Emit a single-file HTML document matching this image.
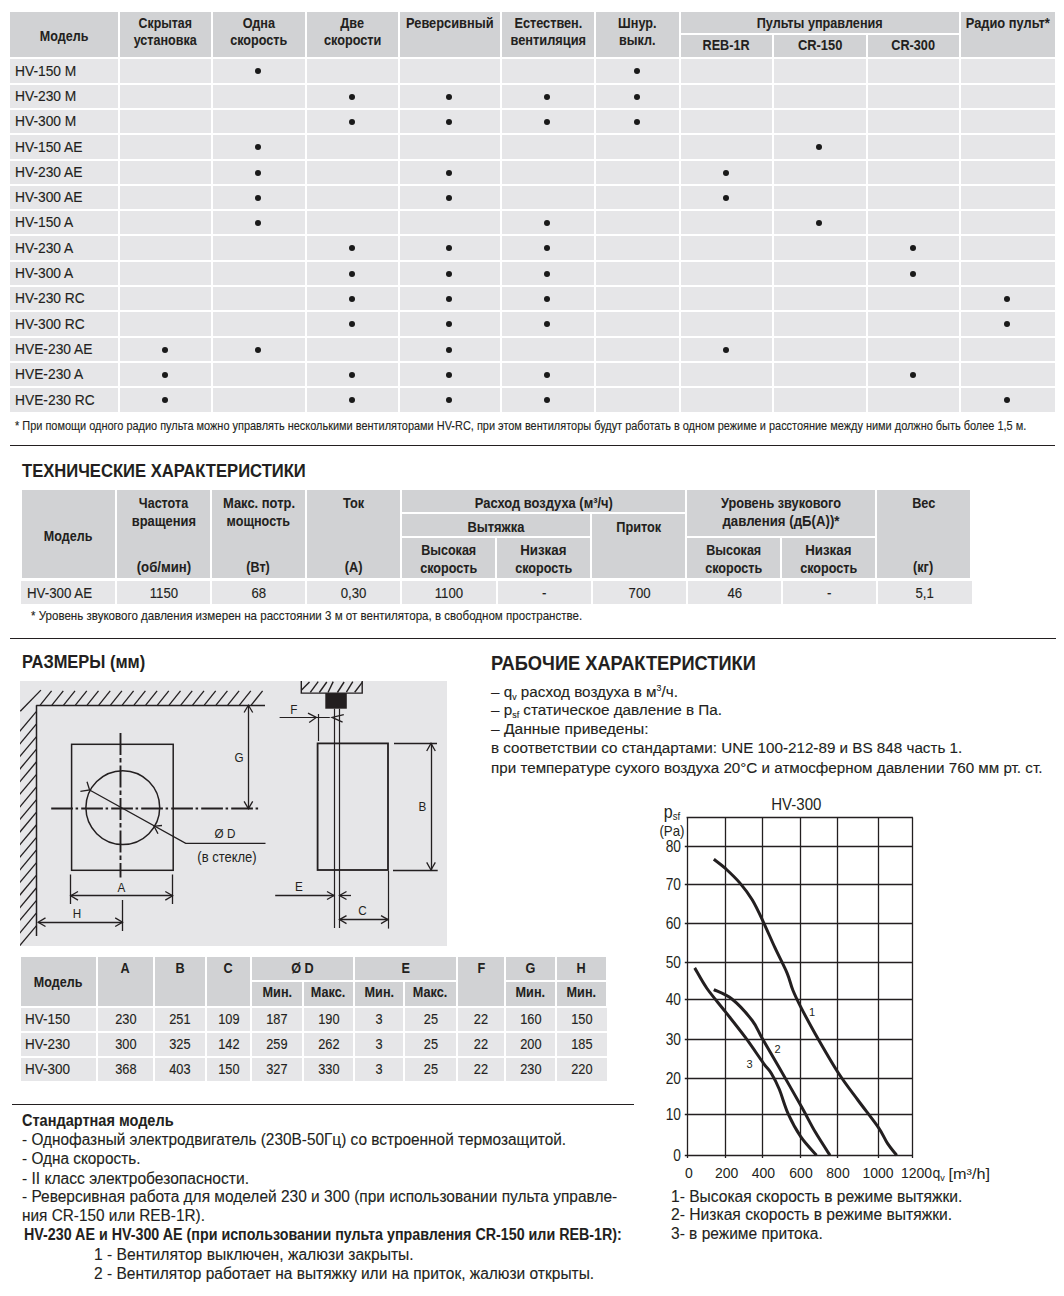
<!DOCTYPE html>
<html><head><meta charset="utf-8"><title>HV</title>
<style>
html,body{margin:0;padding:0;background:#fff}
body{width:1064px;height:1296px;position:relative;overflow:hidden;font-family:"Liberation Sans",sans-serif;color:#231f20}
.r{position:absolute}
.t{position:absolute;white-space:nowrap;-webkit-text-stroke:0.12px #231f20}
.d{position:absolute;border-radius:50%;background:#1a1a1a}
sub,sup{font-size:58%;line-height:0}sub{vertical-align:-0.32em}
svg{position:absolute;left:0;top:0}
</style></head><body>
<div class="r" style="left:10px;top:12px;width:108px;height:45px;background:#d1d2d4"></div>
<div class="r" style="left:120px;top:12px;width:91px;height:45px;background:#d1d2d4"></div>
<div class="r" style="left:213px;top:12px;width:92px;height:45px;background:#d1d2d4"></div>
<div class="r" style="left:307px;top:12px;width:91px;height:45px;background:#d1d2d4"></div>
<div class="r" style="left:400px;top:12px;width:100px;height:45px;background:#d1d2d4"></div>
<div class="r" style="left:502px;top:12px;width:92px;height:45px;background:#d1d2d4"></div>
<div class="r" style="left:596px;top:12px;width:83px;height:45px;background:#d1d2d4"></div>
<div class="r" style="left:961px;top:12px;width:94px;height:45px;background:#d1d2d4"></div>
<div class="r" style="left:681px;top:12px;width:278px;height:21px;background:#d1d2d4"></div>
<div class="r" style="left:681px;top:35px;width:91px;height:22px;background:#d1d2d4"></div>
<div class="r" style="left:774px;top:35px;width:92px;height:22px;background:#d1d2d4"></div>
<div class="r" style="left:868px;top:35px;width:91px;height:22px;background:#d1d2d4"></div>
<div class="t" style="left:-336.0px;width:800px;text-align:center;top:29.15px;font-size:14px;line-height:14px;font-weight:700;-webkit-text-stroke-width:0.05px;"><span style="display:inline-block;transform:scaleX(0.8950);">Модель</span></div>
<div class="t" style="left:-234.5px;width:800px;text-align:center;top:15.85px;font-size:14px;line-height:14px;font-weight:700;-webkit-text-stroke-width:0.05px;"><span style="display:inline-block;transform:scaleX(0.8821);">Скрытая</span></div>
<div class="t" style="left:-234.5px;width:800px;text-align:center;top:33.35px;font-size:14px;line-height:14px;font-weight:700;-webkit-text-stroke-width:0.05px;"><span style="display:inline-block;transform:scaleX(0.8968);">установка</span></div>
<div class="t" style="left:-141.0px;width:800px;text-align:center;top:15.85px;font-size:14px;line-height:14px;font-weight:700;-webkit-text-stroke-width:0.05px;"><span style="display:inline-block;transform:scaleX(0.9050);">Одна</span></div>
<div class="t" style="left:-141.0px;width:800px;text-align:center;top:33.35px;font-size:14px;line-height:14px;font-weight:700;-webkit-text-stroke-width:0.05px;"><span style="display:inline-block;transform:scaleX(0.9005);">скорость</span></div>
<div class="t" style="left:-47.5px;width:800px;text-align:center;top:15.85px;font-size:14px;line-height:14px;font-weight:700;-webkit-text-stroke-width:0.05px;"><span style="display:inline-block;transform:scaleX(0.9050);">Две</span></div>
<div class="t" style="left:-47.5px;width:800px;text-align:center;top:33.35px;font-size:14px;line-height:14px;font-weight:700;-webkit-text-stroke-width:0.05px;"><span style="display:inline-block;transform:scaleX(0.9050);">скорости</span></div>
<div class="t" style="left:148.0px;width:800px;text-align:center;top:15.85px;font-size:14px;line-height:14px;font-weight:700;-webkit-text-stroke-width:0.05px;"><span style="display:inline-block;transform:scaleX(0.9068);">Естествен.</span></div>
<div class="t" style="left:148.0px;width:800px;text-align:center;top:33.35px;font-size:14px;line-height:14px;font-weight:700;-webkit-text-stroke-width:0.05px;"><span style="display:inline-block;transform:scaleX(0.9155);">вентиляция</span></div>
<div class="t" style="left:237.5px;width:800px;text-align:center;top:15.85px;font-size:14px;line-height:14px;font-weight:700;-webkit-text-stroke-width:0.05px;"><span style="display:inline-block;transform:scaleX(0.9025);">Шнур.</span></div>
<div class="t" style="left:237.5px;width:800px;text-align:center;top:33.35px;font-size:14px;line-height:14px;font-weight:700;-webkit-text-stroke-width:0.05px;"><span style="display:inline-block;transform:scaleX(0.8984);">выкл.</span></div>
<div class="t" style="left:50.0px;width:800px;text-align:center;top:15.85px;font-size:14px;line-height:14px;font-weight:700;-webkit-text-stroke-width:0.05px;"><span style="display:inline-block;transform:scaleX(0.9158);">Реверсивный</span></div>
<div class="t" style="left:420.0px;width:800px;text-align:center;top:15.85px;font-size:14px;line-height:14px;font-weight:700;-webkit-text-stroke-width:0.05px;"><span style="display:inline-block;transform:scaleX(0.9043);">Пульты управления</span></div>
<div class="t" style="left:326.5px;width:800px;text-align:center;top:37.85px;font-size:14px;line-height:14px;font-weight:700;-webkit-text-stroke-width:0.05px;"><span style="display:inline-block;transform:scaleX(0.9019);">REB-1R</span></div>
<div class="t" style="left:420.0px;width:800px;text-align:center;top:37.85px;font-size:14px;line-height:14px;font-weight:700;-webkit-text-stroke-width:0.05px;"><span style="display:inline-block;transform:scaleX(0.9208);">CR-150</span></div>
<div class="t" style="left:513.5px;width:800px;text-align:center;top:37.85px;font-size:14px;line-height:14px;font-weight:700;-webkit-text-stroke-width:0.05px;"><span style="display:inline-block;transform:scaleX(0.9050);">CR-300</span></div>
<div class="t" style="left:608.0px;width:800px;text-align:center;top:15.85px;font-size:14px;line-height:14px;font-weight:700;-webkit-text-stroke-width:0.05px;"><span style="display:inline-block;transform:scaleX(0.9180);">Радио пульт*</span></div>
<div class="r" style="left:10px;top:59px;width:108px;height:24px;background:#e6e6e8"></div>
<div class="r" style="left:120px;top:59px;width:91px;height:24px;background:#e6e6e8"></div>
<div class="r" style="left:213px;top:59px;width:92px;height:24px;background:#e6e6e8"></div>
<div class="r" style="left:307px;top:59px;width:91px;height:24px;background:#e6e6e8"></div>
<div class="r" style="left:400px;top:59px;width:100px;height:24px;background:#e6e6e8"></div>
<div class="r" style="left:502px;top:59px;width:92px;height:24px;background:#e6e6e8"></div>
<div class="r" style="left:596px;top:59px;width:83px;height:24px;background:#e6e6e8"></div>
<div class="r" style="left:681px;top:59px;width:91px;height:24px;background:#e6e6e8"></div>
<div class="r" style="left:774px;top:59px;width:92px;height:24px;background:#e6e6e8"></div>
<div class="r" style="left:868px;top:59px;width:91px;height:24px;background:#e6e6e8"></div>
<div class="r" style="left:961px;top:59px;width:94px;height:24px;background:#e6e6e8"></div>
<div class="t" style="left:15px;top:64.92px;font-size:13.8px;line-height:13.8px;transform-origin:0 0">HV-150 M</div>
<div class="d" style="left:255.3px;top:68.0px;width:6px;height:6px"></div>
<div class="d" style="left:633.8px;top:68.0px;width:6px;height:6px"></div>
<div class="r" style="left:10px;top:85px;width:108px;height:23px;background:#e6e6e8"></div>
<div class="r" style="left:120px;top:85px;width:91px;height:23px;background:#e6e6e8"></div>
<div class="r" style="left:213px;top:85px;width:92px;height:23px;background:#e6e6e8"></div>
<div class="r" style="left:307px;top:85px;width:91px;height:23px;background:#e6e6e8"></div>
<div class="r" style="left:400px;top:85px;width:100px;height:23px;background:#e6e6e8"></div>
<div class="r" style="left:502px;top:85px;width:92px;height:23px;background:#e6e6e8"></div>
<div class="r" style="left:596px;top:85px;width:83px;height:23px;background:#e6e6e8"></div>
<div class="r" style="left:681px;top:85px;width:91px;height:23px;background:#e6e6e8"></div>
<div class="r" style="left:774px;top:85px;width:92px;height:23px;background:#e6e6e8"></div>
<div class="r" style="left:868px;top:85px;width:91px;height:23px;background:#e6e6e8"></div>
<div class="r" style="left:961px;top:85px;width:94px;height:23px;background:#e6e6e8"></div>
<div class="t" style="left:15px;top:90.42px;font-size:13.8px;line-height:13.8px;transform-origin:0 0">HV-230 M</div>
<div class="d" style="left:348.8px;top:93.5px;width:6px;height:6px"></div>
<div class="d" style="left:446.3px;top:93.5px;width:6px;height:6px"></div>
<div class="d" style="left:544.3px;top:93.5px;width:6px;height:6px"></div>
<div class="d" style="left:633.8px;top:93.5px;width:6px;height:6px"></div>
<div class="r" style="left:10px;top:110px;width:108px;height:23px;background:#e6e6e8"></div>
<div class="r" style="left:120px;top:110px;width:91px;height:23px;background:#e6e6e8"></div>
<div class="r" style="left:213px;top:110px;width:92px;height:23px;background:#e6e6e8"></div>
<div class="r" style="left:307px;top:110px;width:91px;height:23px;background:#e6e6e8"></div>
<div class="r" style="left:400px;top:110px;width:100px;height:23px;background:#e6e6e8"></div>
<div class="r" style="left:502px;top:110px;width:92px;height:23px;background:#e6e6e8"></div>
<div class="r" style="left:596px;top:110px;width:83px;height:23px;background:#e6e6e8"></div>
<div class="r" style="left:681px;top:110px;width:91px;height:23px;background:#e6e6e8"></div>
<div class="r" style="left:774px;top:110px;width:92px;height:23px;background:#e6e6e8"></div>
<div class="r" style="left:868px;top:110px;width:91px;height:23px;background:#e6e6e8"></div>
<div class="r" style="left:961px;top:110px;width:94px;height:23px;background:#e6e6e8"></div>
<div class="t" style="left:15px;top:115.42px;font-size:13.8px;line-height:13.8px;transform-origin:0 0">HV-300 M</div>
<div class="d" style="left:348.8px;top:118.5px;width:6px;height:6px"></div>
<div class="d" style="left:446.3px;top:118.5px;width:6px;height:6px"></div>
<div class="d" style="left:544.3px;top:118.5px;width:6px;height:6px"></div>
<div class="d" style="left:633.8px;top:118.5px;width:6px;height:6px"></div>
<div class="r" style="left:10px;top:135px;width:108px;height:24px;background:#e6e6e8"></div>
<div class="r" style="left:120px;top:135px;width:91px;height:24px;background:#e6e6e8"></div>
<div class="r" style="left:213px;top:135px;width:92px;height:24px;background:#e6e6e8"></div>
<div class="r" style="left:307px;top:135px;width:91px;height:24px;background:#e6e6e8"></div>
<div class="r" style="left:400px;top:135px;width:100px;height:24px;background:#e6e6e8"></div>
<div class="r" style="left:502px;top:135px;width:92px;height:24px;background:#e6e6e8"></div>
<div class="r" style="left:596px;top:135px;width:83px;height:24px;background:#e6e6e8"></div>
<div class="r" style="left:681px;top:135px;width:91px;height:24px;background:#e6e6e8"></div>
<div class="r" style="left:774px;top:135px;width:92px;height:24px;background:#e6e6e8"></div>
<div class="r" style="left:868px;top:135px;width:91px;height:24px;background:#e6e6e8"></div>
<div class="r" style="left:961px;top:135px;width:94px;height:24px;background:#e6e6e8"></div>
<div class="t" style="left:15px;top:140.92px;font-size:13.8px;line-height:13.8px;transform-origin:0 0">HV-150 AE</div>
<div class="d" style="left:255.3px;top:144.0px;width:6px;height:6px"></div>
<div class="d" style="left:816.3px;top:144.0px;width:6px;height:6px"></div>
<div class="r" style="left:10px;top:161px;width:108px;height:23px;background:#e6e6e8"></div>
<div class="r" style="left:120px;top:161px;width:91px;height:23px;background:#e6e6e8"></div>
<div class="r" style="left:213px;top:161px;width:92px;height:23px;background:#e6e6e8"></div>
<div class="r" style="left:307px;top:161px;width:91px;height:23px;background:#e6e6e8"></div>
<div class="r" style="left:400px;top:161px;width:100px;height:23px;background:#e6e6e8"></div>
<div class="r" style="left:502px;top:161px;width:92px;height:23px;background:#e6e6e8"></div>
<div class="r" style="left:596px;top:161px;width:83px;height:23px;background:#e6e6e8"></div>
<div class="r" style="left:681px;top:161px;width:91px;height:23px;background:#e6e6e8"></div>
<div class="r" style="left:774px;top:161px;width:92px;height:23px;background:#e6e6e8"></div>
<div class="r" style="left:868px;top:161px;width:91px;height:23px;background:#e6e6e8"></div>
<div class="r" style="left:961px;top:161px;width:94px;height:23px;background:#e6e6e8"></div>
<div class="t" style="left:15px;top:166.42px;font-size:13.8px;line-height:13.8px;transform-origin:0 0">HV-230 AE</div>
<div class="d" style="left:255.3px;top:169.5px;width:6px;height:6px"></div>
<div class="d" style="left:446.3px;top:169.5px;width:6px;height:6px"></div>
<div class="d" style="left:722.8px;top:169.5px;width:6px;height:6px"></div>
<div class="r" style="left:10px;top:186px;width:108px;height:23px;background:#e6e6e8"></div>
<div class="r" style="left:120px;top:186px;width:91px;height:23px;background:#e6e6e8"></div>
<div class="r" style="left:213px;top:186px;width:92px;height:23px;background:#e6e6e8"></div>
<div class="r" style="left:307px;top:186px;width:91px;height:23px;background:#e6e6e8"></div>
<div class="r" style="left:400px;top:186px;width:100px;height:23px;background:#e6e6e8"></div>
<div class="r" style="left:502px;top:186px;width:92px;height:23px;background:#e6e6e8"></div>
<div class="r" style="left:596px;top:186px;width:83px;height:23px;background:#e6e6e8"></div>
<div class="r" style="left:681px;top:186px;width:91px;height:23px;background:#e6e6e8"></div>
<div class="r" style="left:774px;top:186px;width:92px;height:23px;background:#e6e6e8"></div>
<div class="r" style="left:868px;top:186px;width:91px;height:23px;background:#e6e6e8"></div>
<div class="r" style="left:961px;top:186px;width:94px;height:23px;background:#e6e6e8"></div>
<div class="t" style="left:15px;top:191.42px;font-size:13.8px;line-height:13.8px;transform-origin:0 0">HV-300 AE</div>
<div class="d" style="left:255.3px;top:194.5px;width:6px;height:6px"></div>
<div class="d" style="left:446.3px;top:194.5px;width:6px;height:6px"></div>
<div class="d" style="left:722.8px;top:194.5px;width:6px;height:6px"></div>
<div class="r" style="left:10px;top:211px;width:108px;height:23px;background:#e6e6e8"></div>
<div class="r" style="left:120px;top:211px;width:91px;height:23px;background:#e6e6e8"></div>
<div class="r" style="left:213px;top:211px;width:92px;height:23px;background:#e6e6e8"></div>
<div class="r" style="left:307px;top:211px;width:91px;height:23px;background:#e6e6e8"></div>
<div class="r" style="left:400px;top:211px;width:100px;height:23px;background:#e6e6e8"></div>
<div class="r" style="left:502px;top:211px;width:92px;height:23px;background:#e6e6e8"></div>
<div class="r" style="left:596px;top:211px;width:83px;height:23px;background:#e6e6e8"></div>
<div class="r" style="left:681px;top:211px;width:91px;height:23px;background:#e6e6e8"></div>
<div class="r" style="left:774px;top:211px;width:92px;height:23px;background:#e6e6e8"></div>
<div class="r" style="left:868px;top:211px;width:91px;height:23px;background:#e6e6e8"></div>
<div class="r" style="left:961px;top:211px;width:94px;height:23px;background:#e6e6e8"></div>
<div class="t" style="left:15px;top:216.42px;font-size:13.8px;line-height:13.8px;transform-origin:0 0">HV-150 A</div>
<div class="d" style="left:255.3px;top:219.5px;width:6px;height:6px"></div>
<div class="d" style="left:544.3px;top:219.5px;width:6px;height:6px"></div>
<div class="d" style="left:816.3px;top:219.5px;width:6px;height:6px"></div>
<div class="r" style="left:10px;top:236px;width:108px;height:24px;background:#e6e6e8"></div>
<div class="r" style="left:120px;top:236px;width:91px;height:24px;background:#e6e6e8"></div>
<div class="r" style="left:213px;top:236px;width:92px;height:24px;background:#e6e6e8"></div>
<div class="r" style="left:307px;top:236px;width:91px;height:24px;background:#e6e6e8"></div>
<div class="r" style="left:400px;top:236px;width:100px;height:24px;background:#e6e6e8"></div>
<div class="r" style="left:502px;top:236px;width:92px;height:24px;background:#e6e6e8"></div>
<div class="r" style="left:596px;top:236px;width:83px;height:24px;background:#e6e6e8"></div>
<div class="r" style="left:681px;top:236px;width:91px;height:24px;background:#e6e6e8"></div>
<div class="r" style="left:774px;top:236px;width:92px;height:24px;background:#e6e6e8"></div>
<div class="r" style="left:868px;top:236px;width:91px;height:24px;background:#e6e6e8"></div>
<div class="r" style="left:961px;top:236px;width:94px;height:24px;background:#e6e6e8"></div>
<div class="t" style="left:15px;top:241.92px;font-size:13.8px;line-height:13.8px;transform-origin:0 0">HV-230 A</div>
<div class="d" style="left:348.8px;top:245.0px;width:6px;height:6px"></div>
<div class="d" style="left:446.3px;top:245.0px;width:6px;height:6px"></div>
<div class="d" style="left:544.3px;top:245.0px;width:6px;height:6px"></div>
<div class="d" style="left:909.8px;top:245.0px;width:6px;height:6px"></div>
<div class="r" style="left:10px;top:262px;width:108px;height:23px;background:#e6e6e8"></div>
<div class="r" style="left:120px;top:262px;width:91px;height:23px;background:#e6e6e8"></div>
<div class="r" style="left:213px;top:262px;width:92px;height:23px;background:#e6e6e8"></div>
<div class="r" style="left:307px;top:262px;width:91px;height:23px;background:#e6e6e8"></div>
<div class="r" style="left:400px;top:262px;width:100px;height:23px;background:#e6e6e8"></div>
<div class="r" style="left:502px;top:262px;width:92px;height:23px;background:#e6e6e8"></div>
<div class="r" style="left:596px;top:262px;width:83px;height:23px;background:#e6e6e8"></div>
<div class="r" style="left:681px;top:262px;width:91px;height:23px;background:#e6e6e8"></div>
<div class="r" style="left:774px;top:262px;width:92px;height:23px;background:#e6e6e8"></div>
<div class="r" style="left:868px;top:262px;width:91px;height:23px;background:#e6e6e8"></div>
<div class="r" style="left:961px;top:262px;width:94px;height:23px;background:#e6e6e8"></div>
<div class="t" style="left:15px;top:267.42px;font-size:13.8px;line-height:13.8px;transform-origin:0 0">HV-300 A</div>
<div class="d" style="left:348.8px;top:270.5px;width:6px;height:6px"></div>
<div class="d" style="left:446.3px;top:270.5px;width:6px;height:6px"></div>
<div class="d" style="left:544.3px;top:270.5px;width:6px;height:6px"></div>
<div class="d" style="left:909.8px;top:270.5px;width:6px;height:6px"></div>
<div class="r" style="left:10px;top:287px;width:108px;height:23px;background:#e6e6e8"></div>
<div class="r" style="left:120px;top:287px;width:91px;height:23px;background:#e6e6e8"></div>
<div class="r" style="left:213px;top:287px;width:92px;height:23px;background:#e6e6e8"></div>
<div class="r" style="left:307px;top:287px;width:91px;height:23px;background:#e6e6e8"></div>
<div class="r" style="left:400px;top:287px;width:100px;height:23px;background:#e6e6e8"></div>
<div class="r" style="left:502px;top:287px;width:92px;height:23px;background:#e6e6e8"></div>
<div class="r" style="left:596px;top:287px;width:83px;height:23px;background:#e6e6e8"></div>
<div class="r" style="left:681px;top:287px;width:91px;height:23px;background:#e6e6e8"></div>
<div class="r" style="left:774px;top:287px;width:92px;height:23px;background:#e6e6e8"></div>
<div class="r" style="left:868px;top:287px;width:91px;height:23px;background:#e6e6e8"></div>
<div class="r" style="left:961px;top:287px;width:94px;height:23px;background:#e6e6e8"></div>
<div class="t" style="left:15px;top:292.42px;font-size:13.8px;line-height:13.8px;transform-origin:0 0">HV-230 RC</div>
<div class="d" style="left:348.8px;top:295.5px;width:6px;height:6px"></div>
<div class="d" style="left:446.3px;top:295.5px;width:6px;height:6px"></div>
<div class="d" style="left:544.3px;top:295.5px;width:6px;height:6px"></div>
<div class="d" style="left:1004.3px;top:295.5px;width:6px;height:6px"></div>
<div class="r" style="left:10px;top:312px;width:108px;height:24px;background:#e6e6e8"></div>
<div class="r" style="left:120px;top:312px;width:91px;height:24px;background:#e6e6e8"></div>
<div class="r" style="left:213px;top:312px;width:92px;height:24px;background:#e6e6e8"></div>
<div class="r" style="left:307px;top:312px;width:91px;height:24px;background:#e6e6e8"></div>
<div class="r" style="left:400px;top:312px;width:100px;height:24px;background:#e6e6e8"></div>
<div class="r" style="left:502px;top:312px;width:92px;height:24px;background:#e6e6e8"></div>
<div class="r" style="left:596px;top:312px;width:83px;height:24px;background:#e6e6e8"></div>
<div class="r" style="left:681px;top:312px;width:91px;height:24px;background:#e6e6e8"></div>
<div class="r" style="left:774px;top:312px;width:92px;height:24px;background:#e6e6e8"></div>
<div class="r" style="left:868px;top:312px;width:91px;height:24px;background:#e6e6e8"></div>
<div class="r" style="left:961px;top:312px;width:94px;height:24px;background:#e6e6e8"></div>
<div class="t" style="left:15px;top:317.92px;font-size:13.8px;line-height:13.8px;transform-origin:0 0">HV-300 RC</div>
<div class="d" style="left:348.8px;top:321.0px;width:6px;height:6px"></div>
<div class="d" style="left:446.3px;top:321.0px;width:6px;height:6px"></div>
<div class="d" style="left:544.3px;top:321.0px;width:6px;height:6px"></div>
<div class="d" style="left:1004.3px;top:321.0px;width:6px;height:6px"></div>
<div class="r" style="left:10px;top:338px;width:108px;height:23px;background:#e6e6e8"></div>
<div class="r" style="left:120px;top:338px;width:91px;height:23px;background:#e6e6e8"></div>
<div class="r" style="left:213px;top:338px;width:92px;height:23px;background:#e6e6e8"></div>
<div class="r" style="left:307px;top:338px;width:91px;height:23px;background:#e6e6e8"></div>
<div class="r" style="left:400px;top:338px;width:100px;height:23px;background:#e6e6e8"></div>
<div class="r" style="left:502px;top:338px;width:92px;height:23px;background:#e6e6e8"></div>
<div class="r" style="left:596px;top:338px;width:83px;height:23px;background:#e6e6e8"></div>
<div class="r" style="left:681px;top:338px;width:91px;height:23px;background:#e6e6e8"></div>
<div class="r" style="left:774px;top:338px;width:92px;height:23px;background:#e6e6e8"></div>
<div class="r" style="left:868px;top:338px;width:91px;height:23px;background:#e6e6e8"></div>
<div class="r" style="left:961px;top:338px;width:94px;height:23px;background:#e6e6e8"></div>
<div class="t" style="left:15px;top:343.42px;font-size:13.8px;line-height:13.8px;transform-origin:0 0">HVE-230 AE</div>
<div class="d" style="left:161.8px;top:346.5px;width:6px;height:6px"></div>
<div class="d" style="left:255.3px;top:346.5px;width:6px;height:6px"></div>
<div class="d" style="left:446.3px;top:346.5px;width:6px;height:6px"></div>
<div class="d" style="left:722.8px;top:346.5px;width:6px;height:6px"></div>
<div class="r" style="left:10px;top:363px;width:108px;height:23px;background:#e6e6e8"></div>
<div class="r" style="left:120px;top:363px;width:91px;height:23px;background:#e6e6e8"></div>
<div class="r" style="left:213px;top:363px;width:92px;height:23px;background:#e6e6e8"></div>
<div class="r" style="left:307px;top:363px;width:91px;height:23px;background:#e6e6e8"></div>
<div class="r" style="left:400px;top:363px;width:100px;height:23px;background:#e6e6e8"></div>
<div class="r" style="left:502px;top:363px;width:92px;height:23px;background:#e6e6e8"></div>
<div class="r" style="left:596px;top:363px;width:83px;height:23px;background:#e6e6e8"></div>
<div class="r" style="left:681px;top:363px;width:91px;height:23px;background:#e6e6e8"></div>
<div class="r" style="left:774px;top:363px;width:92px;height:23px;background:#e6e6e8"></div>
<div class="r" style="left:868px;top:363px;width:91px;height:23px;background:#e6e6e8"></div>
<div class="r" style="left:961px;top:363px;width:94px;height:23px;background:#e6e6e8"></div>
<div class="t" style="left:15px;top:368.42px;font-size:13.8px;line-height:13.8px;transform-origin:0 0">HVE-230 A</div>
<div class="d" style="left:161.8px;top:371.5px;width:6px;height:6px"></div>
<div class="d" style="left:348.8px;top:371.5px;width:6px;height:6px"></div>
<div class="d" style="left:446.3px;top:371.5px;width:6px;height:6px"></div>
<div class="d" style="left:544.3px;top:371.5px;width:6px;height:6px"></div>
<div class="d" style="left:909.8px;top:371.5px;width:6px;height:6px"></div>
<div class="r" style="left:10px;top:388px;width:108px;height:24px;background:#e6e6e8"></div>
<div class="r" style="left:120px;top:388px;width:91px;height:24px;background:#e6e6e8"></div>
<div class="r" style="left:213px;top:388px;width:92px;height:24px;background:#e6e6e8"></div>
<div class="r" style="left:307px;top:388px;width:91px;height:24px;background:#e6e6e8"></div>
<div class="r" style="left:400px;top:388px;width:100px;height:24px;background:#e6e6e8"></div>
<div class="r" style="left:502px;top:388px;width:92px;height:24px;background:#e6e6e8"></div>
<div class="r" style="left:596px;top:388px;width:83px;height:24px;background:#e6e6e8"></div>
<div class="r" style="left:681px;top:388px;width:91px;height:24px;background:#e6e6e8"></div>
<div class="r" style="left:774px;top:388px;width:92px;height:24px;background:#e6e6e8"></div>
<div class="r" style="left:868px;top:388px;width:91px;height:24px;background:#e6e6e8"></div>
<div class="r" style="left:961px;top:388px;width:94px;height:24px;background:#e6e6e8"></div>
<div class="t" style="left:15px;top:393.92px;font-size:13.8px;line-height:13.8px;transform-origin:0 0">HVE-230 RC</div>
<div class="d" style="left:161.8px;top:397.0px;width:6px;height:6px"></div>
<div class="d" style="left:348.8px;top:397.0px;width:6px;height:6px"></div>
<div class="d" style="left:446.3px;top:397.0px;width:6px;height:6px"></div>
<div class="d" style="left:544.3px;top:397.0px;width:6px;height:6px"></div>
<div class="d" style="left:1004.3px;top:397.0px;width:6px;height:6px"></div>
<div class="t" style="left:15px;top:419.86px;font-size:12.8px;line-height:12.8px;transform:scaleX(0.8549);transform-origin:0 0">* При помощи одного радио пульта можно управлять несколькими вентиляторами HV-RC, при этом вентиляторы будут работать в одном режиме и расстояние между ними должно быть более 1,5 м.</div>
<div class="r" style="left:10px;top:445px;width:1045px;height:1px;background:#231f20"></div>
<div class="t" style="left:21.7px;top:462.19px;font-size:18.8px;line-height:18.8px;font-weight:700;-webkit-text-stroke-width:0.05px;transform:scaleX(0.8838);transform-origin:0 0">ТЕХНИЧЕСКИЕ ХАРАКТЕРИСТИКИ</div>
<div class="r" style="left:22px;top:490px;width:93px;height:88px;background:#d1d2d4"></div>
<div class="r" style="left:117px;top:490px;width:93px;height:88px;background:#d1d2d4"></div>
<div class="r" style="left:212px;top:490px;width:93px;height:88px;background:#d1d2d4"></div>
<div class="r" style="left:307px;top:490px;width:93px;height:88px;background:#d1d2d4"></div>
<div class="r" style="left:877px;top:490px;width:93px;height:88px;background:#d1d2d4"></div>
<div class="r" style="left:402px;top:490px;width:283px;height:22px;background:#d1d2d4"></div>
<div class="r" style="left:402px;top:514px;width:188px;height:22px;background:#d1d2d4"></div>
<div class="r" style="left:592px;top:514px;width:93px;height:64px;background:#d1d2d4"></div>
<div class="r" style="left:402px;top:538px;width:93px;height:40px;background:#d1d2d4"></div>
<div class="r" style="left:497px;top:538px;width:93px;height:40px;background:#d1d2d4"></div>
<div class="r" style="left:687px;top:490px;width:188px;height:46px;background:#d1d2d4"></div>
<div class="r" style="left:687px;top:538px;width:93px;height:40px;background:#d1d2d4"></div>
<div class="r" style="left:782px;top:538px;width:93px;height:40px;background:#d1d2d4"></div>
<div class="r" style="left:21px;top:581px;width:94px;height:23px;background:#e6e6e8"></div>
<div class="r" style="left:117px;top:581px;width:93px;height:23px;background:#e6e6e8"></div>
<div class="r" style="left:212px;top:581px;width:93px;height:23px;background:#e6e6e8"></div>
<div class="r" style="left:307px;top:581px;width:93px;height:23px;background:#e6e6e8"></div>
<div class="r" style="left:402px;top:581px;width:94px;height:23px;background:#e6e6e8"></div>
<div class="r" style="left:498px;top:581px;width:93px;height:23px;background:#e6e6e8"></div>
<div class="r" style="left:593px;top:581px;width:93px;height:23px;background:#e6e6e8"></div>
<div class="r" style="left:688px;top:581px;width:93px;height:23px;background:#e6e6e8"></div>
<div class="r" style="left:783px;top:581px;width:93px;height:23px;background:#e6e6e8"></div>
<div class="r" style="left:878px;top:581px;width:94px;height:23px;background:#e6e6e8"></div>
<div class="t" style="left:-331.5px;width:800px;text-align:center;top:528.65px;font-size:14px;line-height:14px;font-weight:700;-webkit-text-stroke-width:0.05px;"><span style="display:inline-block;transform:scaleX(0.8950);">Модель</span></div>
<div class="t" style="left:-236.5px;width:800px;text-align:center;top:496.05px;font-size:14px;line-height:14px;font-weight:700;-webkit-text-stroke-width:0.05px;"><span style="display:inline-block;transform:scaleX(0.8976);">Частота</span></div>
<div class="t" style="left:-236.5px;width:800px;text-align:center;top:514.05px;font-size:14px;line-height:14px;font-weight:700;-webkit-text-stroke-width:0.05px;"><span style="display:inline-block;transform:scaleX(0.9217);">вращения</span></div>
<div class="t" style="left:-236.5px;width:800px;text-align:center;top:560.35px;font-size:14px;line-height:14px;font-weight:700;-webkit-text-stroke-width:0.05px;"><span style="display:inline-block;transform:scaleX(0.9410);">(об/мин)</span></div>
<div class="t" style="left:-141.5px;width:800px;text-align:center;top:496.05px;font-size:14px;line-height:14px;font-weight:700;-webkit-text-stroke-width:0.05px;"><span style="display:inline-block;transform:scaleX(0.9238);">Макс. потр.</span></div>
<div class="t" style="left:-141.5px;width:800px;text-align:center;top:514.05px;font-size:14px;line-height:14px;font-weight:700;-webkit-text-stroke-width:0.05px;"><span style="display:inline-block;transform:scaleX(0.8981);">мощность</span></div>
<div class="t" style="left:-141.5px;width:800px;text-align:center;top:560.35px;font-size:14px;line-height:14px;font-weight:700;-webkit-text-stroke-width:0.05px;"><span style="display:inline-block;transform:scaleX(0.8968);">(Вт)</span></div>
<div class="t" style="left:-46.5px;width:800px;text-align:center;top:496.05px;font-size:14px;line-height:14px;font-weight:700;-webkit-text-stroke-width:0.05px;"><span style="display:inline-block;transform:scaleX(0.9087);">Ток</span></div>
<div class="t" style="left:-46.5px;width:800px;text-align:center;top:560.35px;font-size:14px;line-height:14px;font-weight:700;-webkit-text-stroke-width:0.05px;"><span style="display:inline-block;transform:scaleX(0.9165);">(А)</span></div>
<div class="t" style="left:143.5px;width:800px;text-align:center;top:496.05px;font-size:14px;line-height:14px;font-weight:700;-webkit-text-stroke-width:0.05px;"><span style="display:inline-block;transform:scaleX(0.9221);">Расход воздуха (м³/ч)</span></div>
<div class="t" style="left:96.0px;width:800px;text-align:center;top:519.85px;font-size:14px;line-height:14px;font-weight:700;-webkit-text-stroke-width:0.05px;"><span style="display:inline-block;transform:scaleX(0.9224);">Вытяжка</span></div>
<div class="t" style="left:238.5px;width:800px;text-align:center;top:519.85px;font-size:14px;line-height:14px;font-weight:700;-webkit-text-stroke-width:0.05px;"><span style="display:inline-block;transform:scaleX(0.9102);">Приток</span></div>
<div class="t" style="left:48.5px;width:800px;text-align:center;top:543.15px;font-size:14px;line-height:14px;font-weight:700;-webkit-text-stroke-width:0.05px;"><span style="display:inline-block;transform:scaleX(0.8966);">Высокая</span></div>
<div class="t" style="left:48.5px;width:800px;text-align:center;top:561.45px;font-size:14px;line-height:14px;font-weight:700;-webkit-text-stroke-width:0.05px;"><span style="display:inline-block;transform:scaleX(0.9005);">скорость</span></div>
<div class="t" style="left:143.5px;width:800px;text-align:center;top:543.15px;font-size:14px;line-height:14px;font-weight:700;-webkit-text-stroke-width:0.05px;"><span style="display:inline-block;transform:scaleX(0.9501);">Низкая</span></div>
<div class="t" style="left:143.5px;width:800px;text-align:center;top:561.45px;font-size:14px;line-height:14px;font-weight:700;-webkit-text-stroke-width:0.05px;"><span style="display:inline-block;transform:scaleX(0.9005);">скорость</span></div>
<div class="t" style="left:333.5px;width:800px;text-align:center;top:543.15px;font-size:14px;line-height:14px;font-weight:700;-webkit-text-stroke-width:0.05px;"><span style="display:inline-block;transform:scaleX(0.8966);">Высокая</span></div>
<div class="t" style="left:333.5px;width:800px;text-align:center;top:561.45px;font-size:14px;line-height:14px;font-weight:700;-webkit-text-stroke-width:0.05px;"><span style="display:inline-block;transform:scaleX(0.9005);">скорость</span></div>
<div class="t" style="left:428.5px;width:800px;text-align:center;top:543.15px;font-size:14px;line-height:14px;font-weight:700;-webkit-text-stroke-width:0.05px;"><span style="display:inline-block;transform:scaleX(0.9501);">Низкая</span></div>
<div class="t" style="left:428.5px;width:800px;text-align:center;top:561.45px;font-size:14px;line-height:14px;font-weight:700;-webkit-text-stroke-width:0.05px;"><span style="display:inline-block;transform:scaleX(0.9005);">скорость</span></div>
<div class="t" style="left:381.0px;width:800px;text-align:center;top:496.05px;font-size:14px;line-height:14px;font-weight:700;-webkit-text-stroke-width:0.05px;"><span style="display:inline-block;transform:scaleX(0.9095);">Уровень звукового</span></div>
<div class="t" style="left:381.0px;width:800px;text-align:center;top:514.05px;font-size:14px;line-height:14px;font-weight:700;-webkit-text-stroke-width:0.05px;"><span style="display:inline-block;transform:scaleX(0.9447);">давления (дБ(А))*</span></div>
<div class="t" style="left:523.5px;width:800px;text-align:center;top:496.05px;font-size:14px;line-height:14px;font-weight:700;-webkit-text-stroke-width:0.05px;"><span style="display:inline-block;transform:scaleX(0.9050);">Вес</span></div>
<div class="t" style="left:523.5px;width:800px;text-align:center;top:560.35px;font-size:14px;line-height:14px;font-weight:700;-webkit-text-stroke-width:0.05px;"><span style="display:inline-block;transform:scaleX(0.9050);">(кг)</span></div>
<div class="t" style="left:26.5px;top:586.93px;font-size:13.9px;line-height:13.9px;transform:scaleX(0.9568);transform-origin:0 0">HV-300 AE</div>
<div class="t" style="left:-236.5px;width:800px;text-align:center;top:586.93px;font-size:13.9px;line-height:13.9px;"><span style="display:inline-block;transform:scaleX(0.9500);">1150</span></div>
<div class="t" style="left:-141.5px;width:800px;text-align:center;top:586.93px;font-size:13.9px;line-height:13.9px;"><span style="display:inline-block;transform:scaleX(0.9500);">68</span></div>
<div class="t" style="left:-46.5px;width:800px;text-align:center;top:586.93px;font-size:13.9px;line-height:13.9px;"><span style="display:inline-block;transform:scaleX(0.9500);">0,30</span></div>
<div class="t" style="left:49.0px;width:800px;text-align:center;top:586.93px;font-size:13.9px;line-height:13.9px;"><span style="display:inline-block;transform:scaleX(0.9500);">1100</span></div>
<div class="t" style="left:144.5px;width:800px;text-align:center;top:586.93px;font-size:13.9px;line-height:13.9px;"><span style="display:inline-block;transform:scaleX(0.9500);">-</span></div>
<div class="t" style="left:239.5px;width:800px;text-align:center;top:586.93px;font-size:13.9px;line-height:13.9px;"><span style="display:inline-block;transform:scaleX(0.9500);">700</span></div>
<div class="t" style="left:334.5px;width:800px;text-align:center;top:586.93px;font-size:13.9px;line-height:13.9px;"><span style="display:inline-block;transform:scaleX(0.9500);">46</span></div>
<div class="t" style="left:429.5px;width:800px;text-align:center;top:586.93px;font-size:13.9px;line-height:13.9px;"><span style="display:inline-block;transform:scaleX(0.9500);">-</span></div>
<div class="t" style="left:525.0px;width:800px;text-align:center;top:586.93px;font-size:13.9px;line-height:13.9px;"><span style="display:inline-block;transform:scaleX(0.9500);">5,1</span></div>
<div class="t" style="left:31px;top:610.03px;font-size:12.6px;line-height:12.6px;transform:scaleX(0.9179);transform-origin:0 0">* Уровень звукового давления измерен на расстоянии 3 м от вентилятора, в свободном пространстве.</div>
<div class="r" style="left:10px;top:638px;width:1046px;height:1px;background:#231f20"></div>
<div class="t" style="left:21.6px;top:652.94px;font-size:18.5px;line-height:18.5px;font-weight:700;-webkit-text-stroke-width:0.05px;transform:scaleX(0.8882);transform-origin:0 0">РАЗМЕРЫ (мм)</div>
<svg width="427" height="265" viewBox="20 681 427 265" style="left:20px;top:681px" stroke="#231f20" stroke-linecap="butt" font-family="Liberation Sans, sans-serif"><defs><clipPath id="dc"><rect x="20" y="681" width="427" height="265"/></clipPath></defs><rect x="20" y="681" width="427" height="265" fill="#e6e6e8" stroke="none"/><g clip-path="url(#dc)"><line x1="20.3" y1="711.2" x2="40.9" y2="690.1" stroke-width="1.3"/><line x1="40.2" y1="705.2" x2="51.6" y2="690.8" stroke-width="1.3"/><line x1="51.9" y1="705.2" x2="63.3" y2="690.8" stroke-width="1.3"/><line x1="63.6" y1="705.2" x2="75.0" y2="690.8" stroke-width="1.3"/><line x1="75.4" y1="705.2" x2="86.8" y2="690.8" stroke-width="1.3"/><line x1="87.1" y1="705.2" x2="98.5" y2="690.8" stroke-width="1.3"/><line x1="98.8" y1="705.2" x2="110.2" y2="690.8" stroke-width="1.3"/><line x1="110.5" y1="705.2" x2="121.9" y2="690.8" stroke-width="1.3"/><line x1="122.2" y1="705.2" x2="133.6" y2="690.8" stroke-width="1.3"/><line x1="134.0" y1="705.2" x2="145.4" y2="690.8" stroke-width="1.3"/><line x1="145.7" y1="705.2" x2="157.1" y2="690.8" stroke-width="1.3"/><line x1="157.4" y1="705.2" x2="168.8" y2="690.8" stroke-width="1.3"/><line x1="169.1" y1="705.2" x2="180.5" y2="690.8" stroke-width="1.3"/><line x1="180.8" y1="705.2" x2="192.2" y2="690.8" stroke-width="1.3"/><line x1="192.6" y1="705.2" x2="204.0" y2="690.8" stroke-width="1.3"/><line x1="204.3" y1="705.2" x2="215.7" y2="690.8" stroke-width="1.3"/><line x1="216.0" y1="705.2" x2="227.4" y2="690.8" stroke-width="1.3"/><line x1="227.7" y1="705.2" x2="239.1" y2="690.8" stroke-width="1.3"/><line x1="239.4" y1="705.2" x2="250.8" y2="690.8" stroke-width="1.3"/><line x1="251.2" y1="705.2" x2="262.6" y2="690.8" stroke-width="1.3"/><line x1="36.3" y1="711.6" x2="18.3" y2="733.1" stroke-width="1.3"/><line x1="36.3" y1="724.2" x2="18.3" y2="745.7" stroke-width="1.3"/><line x1="36.3" y1="736.8" x2="18.3" y2="758.3" stroke-width="1.3"/><line x1="36.3" y1="749.4" x2="18.3" y2="770.9" stroke-width="1.3"/><line x1="36.3" y1="762.0" x2="18.3" y2="783.5" stroke-width="1.3"/><line x1="36.3" y1="774.6" x2="18.3" y2="796.1" stroke-width="1.3"/><line x1="36.3" y1="787.2" x2="18.3" y2="808.7" stroke-width="1.3"/><line x1="36.3" y1="799.8" x2="18.3" y2="821.3" stroke-width="1.3"/><line x1="36.3" y1="812.4" x2="18.3" y2="833.9" stroke-width="1.3"/><line x1="36.3" y1="825.0" x2="18.3" y2="846.5" stroke-width="1.3"/><line x1="36.3" y1="837.6" x2="18.3" y2="859.1" stroke-width="1.3"/><line x1="36.3" y1="850.2" x2="18.3" y2="871.7" stroke-width="1.3"/><line x1="36.3" y1="862.8" x2="18.3" y2="884.3" stroke-width="1.3"/><line x1="36.3" y1="875.4" x2="18.3" y2="896.9" stroke-width="1.3"/><line x1="36.3" y1="888.0" x2="18.3" y2="909.5" stroke-width="1.3"/><line x1="36.3" y1="900.6" x2="18.3" y2="922.1" stroke-width="1.3"/><line x1="36.3" y1="913.2" x2="18.3" y2="934.7" stroke-width="1.3"/><line x1="36.3" y1="925.8" x2="18.3" y2="947.3" stroke-width="1.3"/></g><line x1="36.5" y1="705.2" x2="36.5" y2="936.0" stroke-width="1.5"/><line x1="36.3" y1="705.5" x2="265.0" y2="705.5" stroke-width="1.5"/><rect x="71.6" y="744.3" width="101.6" height="126" fill="none" stroke-width="1.5"/><circle cx="122.8" cy="807.6" r="36.9" fill="none" stroke-width="1.5"/><line x1="120.5" y1="732.9" x2="120.5" y2="877.6" stroke-width="1.9" stroke-dasharray="22 3 4.5 3"/><line x1="51.2" y1="808.5" x2="259.0" y2="808.5" stroke-width="1.9" stroke-dasharray="21.7 2.7 2.5 3.1"/><polyline points="89.6,790.0 185.7,843.3 265.5,843.3" fill="none" stroke-width="1.3"/><polyline points="80.4,791.3 89.6,790.0 87.0,781.8" fill="none" stroke-width="1.3"/><polyline points="162.0,825.5 154.1,826.2 158.0,833.7" fill="none" stroke-width="1.3"/><text x="0" y="0" transform="translate(225,838) scale(0.9,1)" font-size="13" text-anchor="middle" fill="#231f20" stroke="none">Ø D</text><text x="0" y="0" transform="translate(227,862) scale(0.93,1)" font-size="14" text-anchor="middle" fill="#231f20" stroke="none">(в стекле)</text><line x1="70.5" y1="874.5" x2="70.5" y2="904.0" stroke-width="1.3"/><line x1="172.5" y1="874.5" x2="172.5" y2="904.0" stroke-width="1.3"/><line x1="70.7" y1="895.5" x2="172.6" y2="895.5" stroke-width="1.3"/><polyline points="78.0,891.5 70.7,895.8 78.0,900.1" fill="none" stroke-width="1.3"/><polyline points="165.3,891.5 172.6,895.8 165.3,900.1" fill="none" stroke-width="1.3"/><text x="0" y="0" transform="translate(121.5,892.4) scale(0.9,1)" font-size="13" text-anchor="middle" fill="#231f20" stroke="none">A</text><line x1="122.5" y1="900.0" x2="122.5" y2="931.0" stroke-width="1.3"/><line x1="38.2" y1="922.5" x2="122.5" y2="922.5" stroke-width="1.3"/><polyline points="45.5,917.9 38.2,922.2 45.5,926.5" fill="none" stroke-width="1.3"/><polyline points="115.2,917.9 122.5,922.2 115.2,926.5" fill="none" stroke-width="1.3"/><text x="0" y="0" transform="translate(77,918) scale(0.9,1)" font-size="13" text-anchor="middle" fill="#231f20" stroke="none">H</text><line x1="248.5" y1="705.2" x2="248.5" y2="808.7" stroke-width="1.3"/><polyline points="244.1,712.5 248.4,705.2 252.7,712.5" fill="none" stroke-width="1.3"/><polyline points="244.1,801.4 248.4,808.7 252.7,801.4" fill="none" stroke-width="1.3"/><text x="0" y="0" transform="translate(239,762) scale(0.9,1)" font-size="13" text-anchor="middle" fill="#231f20" stroke="none">G</text><polyline points="301.3,681.0 301.3,693.1 362.2,693.1 362.2,681.0" fill="none" stroke-width="1.4"/><line x1="301.3" y1="690.3" x2="309.5" y2="682.0" stroke-width="1.4"/><line x1="310.3" y1="692.4" x2="318.2" y2="681.6" stroke-width="1.4"/><line x1="319.3" y1="692.5" x2="326.8" y2="682.0" stroke-width="1.4"/><line x1="328.0" y1="692.5" x2="333.2" y2="681.6" stroke-width="1.4"/><line x1="337.4" y1="692.5" x2="344.1" y2="682.0" stroke-width="1.4"/><line x1="346.4" y1="692.2" x2="352.8" y2="681.6" stroke-width="1.4"/><line x1="354.7" y1="692.2" x2="362.2" y2="682.4" stroke-width="1.4"/><rect x="325.3" y="693.1" width="21.5" height="15.6" fill="#231f20" stroke="none"/><line x1="334.5" y1="708.7" x2="334.5" y2="928.0" stroke-width="1.2"/><line x1="339.5" y1="708.7" x2="339.5" y2="928.0" stroke-width="1.2"/><rect x="317.6" y="743.4" width="70.4" height="126.6" fill="none" stroke-width="1.8"/><line x1="279.6" y1="717.5" x2="329.8" y2="717.5" stroke-width="1.0"/><line x1="318.5" y1="714.0" x2="318.5" y2="741.0" stroke-width="1.2"/><polyline points="308.0,713.2 316.3,717.4 309.2,722.6" fill="none" stroke-width="1.3"/><polyline points="343.8,714.7 332.1,717.4 342.6,722.2" fill="none" stroke-width="1.3"/><text x="0" y="0" transform="translate(293.8,713.5) scale(0.9,1)" font-size="13" text-anchor="middle" fill="#231f20" stroke="none">F</text><line x1="394.0" y1="743.5" x2="437.0" y2="743.5" stroke-width="1.3"/><line x1="393.0" y1="870.5" x2="437.7" y2="870.5" stroke-width="1.3"/><line x1="431.5" y1="743.4" x2="431.5" y2="870.0" stroke-width="1.3"/><polyline points="426.7,751.0 431.0,743.4 435.3,751.0" fill="none" stroke-width="1.3"/><polyline points="426.7,862.4 431.0,870.0 435.3,862.4" fill="none" stroke-width="1.3"/><text x="0" y="0" transform="translate(422.5,810.7) scale(0.9,1)" font-size="13" text-anchor="middle" fill="#231f20" stroke="none">B</text><line x1="275.2" y1="895.5" x2="334.0" y2="895.5" stroke-width="1.3"/><polyline points="327.0,891.5 334.0,895.5 327.0,899.5" fill="none" stroke-width="1.3"/><line x1="339.5" y1="895.5" x2="351.0" y2="895.5" stroke-width="1.3"/><polyline points="346.5,891.5 339.5,895.5 346.5,899.5" fill="none" stroke-width="1.3"/><text x="0" y="0" transform="translate(299,891) scale(0.9,1)" font-size="13" text-anchor="middle" fill="#231f20" stroke="none">E</text><line x1="388.5" y1="871.0" x2="388.5" y2="928.6" stroke-width="1.2"/><line x1="339.5" y1="919.5" x2="388.0" y2="919.5" stroke-width="1.3"/><polyline points="346.5,915.6 339.5,919.6 346.5,923.6" fill="none" stroke-width="1.3"/><polyline points="381.0,915.6 388.0,919.6 381.0,923.6" fill="none" stroke-width="1.3"/><text x="0" y="0" transform="translate(362.5,915) scale(0.9,1)" font-size="13" text-anchor="middle" fill="#231f20" stroke="none">C</text></svg>
<div class="r" style="left:21px;top:957px;width:75px;height:49px;background:#d1d2d4"></div>
<div class="r" style="left:98px;top:957px;width:55px;height:49px;background:#d1d2d4"></div>
<div class="r" style="left:155px;top:957px;width:50px;height:49px;background:#d1d2d4"></div>
<div class="r" style="left:207px;top:957px;width:43px;height:49px;background:#d1d2d4"></div>
<div class="r" style="left:458px;top:957px;width:46px;height:49px;background:#d1d2d4"></div>
<div class="r" style="left:252px;top:957px;width:101px;height:23px;background:#d1d2d4"></div>
<div class="r" style="left:355px;top:957px;width:101px;height:23px;background:#d1d2d4"></div>
<div class="r" style="left:252px;top:982px;width:50px;height:24px;background:#d1d2d4"></div>
<div class="r" style="left:304px;top:982px;width:49px;height:24px;background:#d1d2d4"></div>
<div class="r" style="left:355px;top:982px;width:48px;height:24px;background:#d1d2d4"></div>
<div class="r" style="left:405px;top:982px;width:51px;height:24px;background:#d1d2d4"></div>
<div class="r" style="left:506px;top:982px;width:49px;height:24px;background:#d1d2d4"></div>
<div class="r" style="left:557px;top:982px;width:49px;height:24px;background:#d1d2d4"></div>
<div class="r" style="left:506px;top:957px;width:49px;height:23px;background:#d1d2d4"></div>
<div class="r" style="left:557px;top:957px;width:49px;height:23px;background:#d1d2d4"></div>
<div class="t" style="left:-341.5px;width:800px;text-align:center;top:975.05px;font-size:14px;line-height:14px;font-weight:700;-webkit-text-stroke-width:0.05px;"><span style="display:inline-block;transform:scaleX(0.8950);">Модель</span></div>
<div class="t" style="left:-274.5px;width:800px;text-align:center;top:961.05px;font-size:14px;line-height:14px;font-weight:700;-webkit-text-stroke-width:0.05px;"><span style="display:inline-block;transform:scaleX(0.9050);">A</span></div>
<div class="t" style="left:-220.0px;width:800px;text-align:center;top:961.05px;font-size:14px;line-height:14px;font-weight:700;-webkit-text-stroke-width:0.05px;"><span style="display:inline-block;transform:scaleX(0.9050);">B</span></div>
<div class="t" style="left:-171.5px;width:800px;text-align:center;top:961.05px;font-size:14px;line-height:14px;font-weight:700;-webkit-text-stroke-width:0.05px;"><span style="display:inline-block;transform:scaleX(0.9050);">C</span></div>
<div class="t" style="left:81.0px;width:800px;text-align:center;top:961.05px;font-size:14px;line-height:14px;font-weight:700;-webkit-text-stroke-width:0.05px;"><span style="display:inline-block;transform:scaleX(0.9050);">F</span></div>
<div class="t" style="left:130.5px;width:800px;text-align:center;top:961.05px;font-size:14px;line-height:14px;font-weight:700;-webkit-text-stroke-width:0.05px;"><span style="display:inline-block;transform:scaleX(0.9050);">G</span></div>
<div class="t" style="left:181.5px;width:800px;text-align:center;top:961.05px;font-size:14px;line-height:14px;font-weight:700;-webkit-text-stroke-width:0.05px;"><span style="display:inline-block;transform:scaleX(0.9050);">H</span></div>
<div class="t" style="left:-97.5px;width:800px;text-align:center;top:961.05px;font-size:14px;line-height:14px;font-weight:700;-webkit-text-stroke-width:0.05px;"><span style="display:inline-block;transform:scaleX(0.9050);">Ø D</span></div>
<div class="t" style="left:5.5px;width:800px;text-align:center;top:961.05px;font-size:14px;line-height:14px;font-weight:700;-webkit-text-stroke-width:0.05px;"><span style="display:inline-block;transform:scaleX(0.9050);">E</span></div>
<div class="t" style="left:-123.0px;width:800px;text-align:center;top:985.45px;font-size:14px;line-height:14px;font-weight:700;-webkit-text-stroke-width:0.05px;"><span style="display:inline-block;transform:scaleX(0.9050);">Мин.</span></div>
<div class="t" style="left:-71.5px;width:800px;text-align:center;top:985.45px;font-size:14px;line-height:14px;font-weight:700;-webkit-text-stroke-width:0.05px;"><span style="display:inline-block;transform:scaleX(0.9050);">Макс.</span></div>
<div class="t" style="left:-21.0px;width:800px;text-align:center;top:985.45px;font-size:14px;line-height:14px;font-weight:700;-webkit-text-stroke-width:0.05px;"><span style="display:inline-block;transform:scaleX(0.9050);">Мин.</span></div>
<div class="t" style="left:30.5px;width:800px;text-align:center;top:985.45px;font-size:14px;line-height:14px;font-weight:700;-webkit-text-stroke-width:0.05px;"><span style="display:inline-block;transform:scaleX(0.9050);">Макс.</span></div>
<div class="t" style="left:130.5px;width:800px;text-align:center;top:985.45px;font-size:14px;line-height:14px;font-weight:700;-webkit-text-stroke-width:0.05px;"><span style="display:inline-block;transform:scaleX(0.9050);">Мин.</span></div>
<div class="t" style="left:181.5px;width:800px;text-align:center;top:985.45px;font-size:14px;line-height:14px;font-weight:700;-webkit-text-stroke-width:0.05px;"><span style="display:inline-block;transform:scaleX(0.9050);">Мин.</span></div>
<div class="r" style="left:21px;top:1008px;width:75px;height:23px;background:#e6e6e8"></div>
<div class="r" style="left:98px;top:1008px;width:55px;height:23px;background:#e6e6e8"></div>
<div class="r" style="left:155px;top:1008px;width:50px;height:23px;background:#e6e6e8"></div>
<div class="r" style="left:207px;top:1008px;width:43px;height:23px;background:#e6e6e8"></div>
<div class="r" style="left:252px;top:1008px;width:50px;height:23px;background:#e6e6e8"></div>
<div class="r" style="left:304px;top:1008px;width:49px;height:23px;background:#e6e6e8"></div>
<div class="r" style="left:355px;top:1008px;width:48px;height:23px;background:#e6e6e8"></div>
<div class="r" style="left:405px;top:1008px;width:51px;height:23px;background:#e6e6e8"></div>
<div class="r" style="left:458px;top:1008px;width:46px;height:23px;background:#e6e6e8"></div>
<div class="r" style="left:506px;top:1008px;width:49px;height:23px;background:#e6e6e8"></div>
<div class="r" style="left:557px;top:1008px;width:50px;height:23px;background:#e6e6e8"></div>
<div class="t" style="left:25px;top:1012.28px;font-size:14.2px;line-height:14.2px;transform:scaleX(0.9508);transform-origin:0 0">HV-150</div>
<div class="t" style="left:-274.5px;width:800px;text-align:center;top:1012.28px;font-size:14.2px;line-height:14.2px;"><span style="display:inline-block;transform:scaleX(0.9000);">230</span></div>
<div class="t" style="left:-220.0px;width:800px;text-align:center;top:1012.28px;font-size:14.2px;line-height:14.2px;"><span style="display:inline-block;transform:scaleX(0.9000);">251</span></div>
<div class="t" style="left:-171.5px;width:800px;text-align:center;top:1012.28px;font-size:14.2px;line-height:14.2px;"><span style="display:inline-block;transform:scaleX(0.9000);">109</span></div>
<div class="t" style="left:-123.0px;width:800px;text-align:center;top:1012.28px;font-size:14.2px;line-height:14.2px;"><span style="display:inline-block;transform:scaleX(0.9000);">187</span></div>
<div class="t" style="left:-71.5px;width:800px;text-align:center;top:1012.28px;font-size:14.2px;line-height:14.2px;"><span style="display:inline-block;transform:scaleX(0.9000);">190</span></div>
<div class="t" style="left:-21.0px;width:800px;text-align:center;top:1012.28px;font-size:14.2px;line-height:14.2px;"><span style="display:inline-block;transform:scaleX(0.9000);">3</span></div>
<div class="t" style="left:30.5px;width:800px;text-align:center;top:1012.28px;font-size:14.2px;line-height:14.2px;"><span style="display:inline-block;transform:scaleX(0.9000);">25</span></div>
<div class="t" style="left:81.0px;width:800px;text-align:center;top:1012.28px;font-size:14.2px;line-height:14.2px;"><span style="display:inline-block;transform:scaleX(0.9000);">22</span></div>
<div class="t" style="left:130.5px;width:800px;text-align:center;top:1012.28px;font-size:14.2px;line-height:14.2px;"><span style="display:inline-block;transform:scaleX(0.9000);">160</span></div>
<div class="t" style="left:181.5px;width:800px;text-align:center;top:1012.28px;font-size:14.2px;line-height:14.2px;"><span style="display:inline-block;transform:scaleX(0.9000);">150</span></div>
<div class="r" style="left:21px;top:1033px;width:75px;height:23px;background:#e6e6e8"></div>
<div class="r" style="left:98px;top:1033px;width:55px;height:23px;background:#e6e6e8"></div>
<div class="r" style="left:155px;top:1033px;width:50px;height:23px;background:#e6e6e8"></div>
<div class="r" style="left:207px;top:1033px;width:43px;height:23px;background:#e6e6e8"></div>
<div class="r" style="left:252px;top:1033px;width:50px;height:23px;background:#e6e6e8"></div>
<div class="r" style="left:304px;top:1033px;width:49px;height:23px;background:#e6e6e8"></div>
<div class="r" style="left:355px;top:1033px;width:48px;height:23px;background:#e6e6e8"></div>
<div class="r" style="left:405px;top:1033px;width:51px;height:23px;background:#e6e6e8"></div>
<div class="r" style="left:458px;top:1033px;width:46px;height:23px;background:#e6e6e8"></div>
<div class="r" style="left:506px;top:1033px;width:49px;height:23px;background:#e6e6e8"></div>
<div class="r" style="left:557px;top:1033px;width:50px;height:23px;background:#e6e6e8"></div>
<div class="t" style="left:25px;top:1037.28px;font-size:14.2px;line-height:14.2px;transform:scaleX(0.9508);transform-origin:0 0">HV-230</div>
<div class="t" style="left:-274.5px;width:800px;text-align:center;top:1037.28px;font-size:14.2px;line-height:14.2px;"><span style="display:inline-block;transform:scaleX(0.9000);">300</span></div>
<div class="t" style="left:-220.0px;width:800px;text-align:center;top:1037.28px;font-size:14.2px;line-height:14.2px;"><span style="display:inline-block;transform:scaleX(0.9000);">325</span></div>
<div class="t" style="left:-171.5px;width:800px;text-align:center;top:1037.28px;font-size:14.2px;line-height:14.2px;"><span style="display:inline-block;transform:scaleX(0.9000);">142</span></div>
<div class="t" style="left:-123.0px;width:800px;text-align:center;top:1037.28px;font-size:14.2px;line-height:14.2px;"><span style="display:inline-block;transform:scaleX(0.9000);">259</span></div>
<div class="t" style="left:-71.5px;width:800px;text-align:center;top:1037.28px;font-size:14.2px;line-height:14.2px;"><span style="display:inline-block;transform:scaleX(0.9000);">262</span></div>
<div class="t" style="left:-21.0px;width:800px;text-align:center;top:1037.28px;font-size:14.2px;line-height:14.2px;"><span style="display:inline-block;transform:scaleX(0.9000);">3</span></div>
<div class="t" style="left:30.5px;width:800px;text-align:center;top:1037.28px;font-size:14.2px;line-height:14.2px;"><span style="display:inline-block;transform:scaleX(0.9000);">25</span></div>
<div class="t" style="left:81.0px;width:800px;text-align:center;top:1037.28px;font-size:14.2px;line-height:14.2px;"><span style="display:inline-block;transform:scaleX(0.9000);">22</span></div>
<div class="t" style="left:130.5px;width:800px;text-align:center;top:1037.28px;font-size:14.2px;line-height:14.2px;"><span style="display:inline-block;transform:scaleX(0.9000);">200</span></div>
<div class="t" style="left:181.5px;width:800px;text-align:center;top:1037.28px;font-size:14.2px;line-height:14.2px;"><span style="display:inline-block;transform:scaleX(0.9000);">185</span></div>
<div class="r" style="left:21px;top:1058px;width:75px;height:23px;background:#e6e6e8"></div>
<div class="r" style="left:98px;top:1058px;width:55px;height:23px;background:#e6e6e8"></div>
<div class="r" style="left:155px;top:1058px;width:50px;height:23px;background:#e6e6e8"></div>
<div class="r" style="left:207px;top:1058px;width:43px;height:23px;background:#e6e6e8"></div>
<div class="r" style="left:252px;top:1058px;width:50px;height:23px;background:#e6e6e8"></div>
<div class="r" style="left:304px;top:1058px;width:49px;height:23px;background:#e6e6e8"></div>
<div class="r" style="left:355px;top:1058px;width:48px;height:23px;background:#e6e6e8"></div>
<div class="r" style="left:405px;top:1058px;width:51px;height:23px;background:#e6e6e8"></div>
<div class="r" style="left:458px;top:1058px;width:46px;height:23px;background:#e6e6e8"></div>
<div class="r" style="left:506px;top:1058px;width:49px;height:23px;background:#e6e6e8"></div>
<div class="r" style="left:557px;top:1058px;width:50px;height:23px;background:#e6e6e8"></div>
<div class="t" style="left:25px;top:1062.28px;font-size:14.2px;line-height:14.2px;transform:scaleX(0.9508);transform-origin:0 0">HV-300</div>
<div class="t" style="left:-274.5px;width:800px;text-align:center;top:1062.28px;font-size:14.2px;line-height:14.2px;"><span style="display:inline-block;transform:scaleX(0.9000);">368</span></div>
<div class="t" style="left:-220.0px;width:800px;text-align:center;top:1062.28px;font-size:14.2px;line-height:14.2px;"><span style="display:inline-block;transform:scaleX(0.9000);">403</span></div>
<div class="t" style="left:-171.5px;width:800px;text-align:center;top:1062.28px;font-size:14.2px;line-height:14.2px;"><span style="display:inline-block;transform:scaleX(0.9000);">150</span></div>
<div class="t" style="left:-123.0px;width:800px;text-align:center;top:1062.28px;font-size:14.2px;line-height:14.2px;"><span style="display:inline-block;transform:scaleX(0.9000);">327</span></div>
<div class="t" style="left:-71.5px;width:800px;text-align:center;top:1062.28px;font-size:14.2px;line-height:14.2px;"><span style="display:inline-block;transform:scaleX(0.9000);">330</span></div>
<div class="t" style="left:-21.0px;width:800px;text-align:center;top:1062.28px;font-size:14.2px;line-height:14.2px;"><span style="display:inline-block;transform:scaleX(0.9000);">3</span></div>
<div class="t" style="left:30.5px;width:800px;text-align:center;top:1062.28px;font-size:14.2px;line-height:14.2px;"><span style="display:inline-block;transform:scaleX(0.9000);">25</span></div>
<div class="t" style="left:81.0px;width:800px;text-align:center;top:1062.28px;font-size:14.2px;line-height:14.2px;"><span style="display:inline-block;transform:scaleX(0.9000);">22</span></div>
<div class="t" style="left:130.5px;width:800px;text-align:center;top:1062.28px;font-size:14.2px;line-height:14.2px;"><span style="display:inline-block;transform:scaleX(0.9000);">230</span></div>
<div class="t" style="left:181.5px;width:800px;text-align:center;top:1062.28px;font-size:14.2px;line-height:14.2px;"><span style="display:inline-block;transform:scaleX(0.9000);">220</span></div>
<div class="r" style="left:12px;top:1104px;width:622px;height:1px;background:#231f20"></div>
<div class="t" style="left:22px;top:1113.09px;font-size:15.6px;line-height:15.6px;font-weight:700;-webkit-text-stroke-width:0.05px;transform:scaleX(0.9314);transform-origin:0 0">Стандартная модель</div>
<div class="t" style="left:22px;top:1132.09px;font-size:15.6px;line-height:15.6px;transform:scaleX(0.9864);transform-origin:0 0">- Однофазный электродвигатель (230В-50Гц) со встроенной термозащитой.</div>
<div class="t" style="left:22px;top:1150.99px;font-size:15.6px;line-height:15.6px;transform:scaleX(0.9850);transform-origin:0 0">- Одна скорость.</div>
<div class="t" style="left:22px;top:1170.59px;font-size:15.6px;line-height:15.6px;transform-origin:0 0">- II класс электробезопасности.</div>
<div class="t" style="left:22px;top:1189.19px;font-size:15.6px;line-height:15.6px;transform:scaleX(0.9926);transform-origin:0 0">- Реверсивная работа для моделей 230 и 300 (при использовании пульта управле-</div>
<div class="t" style="left:22px;top:1208.19px;font-size:15.6px;line-height:15.6px;transform:scaleX(0.9850);transform-origin:0 0">ния CR-150 или REB-1R).</div>
<div class="t" style="left:23.5px;top:1227.39px;font-size:15.6px;line-height:15.6px;font-weight:700;-webkit-text-stroke-width:0.05px;transform:scaleX(0.9160);transform-origin:0 0">HV-230 AE и HV-300 AE (при использовании пульта управления CR-150 или REB-1R):</div>
<div class="t" style="left:94.2px;top:1246.99px;font-size:15.6px;line-height:15.6px;transform:scaleX(1.0034);transform-origin:0 0">1 - Вентилятор выключен, жалюзи закрыты.</div>
<div class="t" style="left:94.2px;top:1265.89px;font-size:15.6px;line-height:15.6px;transform:scaleX(0.9947);transform-origin:0 0">2 - Вентилятор работает на вытяжку или на приток, жалюзи открыты.</div>
<div class="t" style="left:491.2px;top:653.81px;font-size:19.6px;line-height:19.6px;font-weight:700;-webkit-text-stroke-width:0.05px;transform:scaleX(0.9316);transform-origin:0 0">РАБОЧИЕ ХАРАКТЕРИСТИКИ</div>
<div class="t" style="left:491px;top:684.16px;font-size:15.4px;line-height:15.4px;transform:scaleX(0.9907);transform-origin:0 0">– q<sub>v</sub> расход воздуха в м<sup>3</sup>/ч.</div>
<div class="t" style="left:491px;top:702.26px;font-size:15.4px;line-height:15.4px;transform:scaleX(0.9919);transform-origin:0 0">– p<sub>sf</sub> статическое давление в Па.</div>
<div class="t" style="left:491px;top:721.06px;font-size:15.4px;line-height:15.4px;transform:scaleX(1.0114);transform-origin:0 0">– Данные приведены:</div>
<div class="t" style="left:491px;top:739.96px;font-size:15.4px;line-height:15.4px;transform:scaleX(0.9889);transform-origin:0 0">в соответствии со стандартами: UNE 100-212-89 и BS 848 часть 1.</div>
<div class="t" style="left:491px;top:759.66px;font-size:15.4px;line-height:15.4px;transform:scaleX(0.9875);transform-origin:0 0">при температуре сухого воздуха 20°C и атмосферном давлении 760 мм рт. ст.</div>
<svg width="360" height="395" viewBox="640 790 360 395" style="left:640px;top:790px" stroke="#231f20" font-family="Liberation Sans, sans-serif"><line x1="687.5" y1="817.4" x2="687.5" y2="1158.0" stroke-width="1.3"/><line x1="725.5" y1="817.4" x2="725.5" y2="1158.0" stroke-width="1.3"/><line x1="762.5" y1="817.4" x2="762.5" y2="1158.0" stroke-width="1.3"/><line x1="800.5" y1="817.4" x2="800.5" y2="1158.0" stroke-width="1.3"/><line x1="837.5" y1="817.4" x2="837.5" y2="1158.0" stroke-width="1.3"/><line x1="878.5" y1="817.4" x2="878.5" y2="1158.0" stroke-width="1.3"/><line x1="912.5" y1="817.4" x2="912.5" y2="1158.0" stroke-width="1.3"/><line x1="686.6" y1="817.5" x2="912.9" y2="817.5" stroke-width="1.3"/><line x1="684.8" y1="846.5" x2="912.9" y2="846.5" stroke-width="1.3"/><line x1="684.8" y1="884.5" x2="912.9" y2="884.5" stroke-width="1.3"/><line x1="684.8" y1="923.5" x2="912.9" y2="923.5" stroke-width="1.3"/><line x1="684.8" y1="962.5" x2="912.9" y2="962.5" stroke-width="1.3"/><line x1="684.8" y1="999.5" x2="912.9" y2="999.5" stroke-width="1.3"/><line x1="684.8" y1="1039.5" x2="912.9" y2="1039.5" stroke-width="1.3"/><line x1="684.8" y1="1078.5" x2="912.9" y2="1078.5" stroke-width="1.3"/><line x1="684.8" y1="1114.5" x2="912.9" y2="1114.5" stroke-width="1.3"/><line x1="684.8" y1="1155.5" x2="912.9" y2="1155.5" stroke-width="1.3"/><path d="M713.8,859.2 C715.7,860.7 720.8,864.2 725.1,868.2 C729.4,872.2 735.3,877.6 739.8,882.9 C744.3,888.2 748.2,893.2 752.2,899.8 C756.2,906.4 759.8,914.4 763.5,922.3 C767.2,930.2 770.8,938.7 774.7,947.2 C778.6,955.7 784.1,966.0 787.1,973.1 C790.1,980.2 790.5,984.4 792.8,990.0 C795.1,995.6 797.0,999.6 800.7,1006.9 C804.5,1014.2 809.1,1023.1 815.3,1034.0 C821.5,1044.9 830.8,1061.2 837.9,1072.3 C845.0,1083.4 851.4,1091.3 858.2,1100.5 C865.0,1109.7 873.6,1120.4 878.5,1127.6 C883.4,1134.8 884.5,1138.8 887.5,1143.4 C890.5,1148.0 895.1,1153.3 896.6,1155.3" fill="none" stroke-width="3.0" stroke-linecap="butt"/><path d="M713.8,989.6 C716.8,991.2 725.5,993.9 731.9,999.0 C738.3,1004.1 747.1,1013.9 752.2,1020.5 C757.3,1027.1 757.8,1030.6 762.3,1038.5 C766.8,1046.4 772.7,1056.3 779.3,1067.8 C785.9,1079.3 795.8,1096.6 801.8,1107.3 C807.8,1118.0 810.6,1124.1 815.3,1132.1 C820.0,1140.1 827.5,1151.4 830.0,1155.3" fill="none" stroke-width="3.0" stroke-linecap="butt"/><path d="M694.7,967.9 C696.8,971.3 701.9,981.2 707.0,988.5 C712.1,995.8 718.7,1003.2 725.1,1011.4 C731.5,1019.5 739.0,1028.8 745.4,1037.4 C751.8,1046.1 759.2,1057.3 763.5,1063.3 C767.8,1069.3 768.8,1069.2 771.4,1073.5 C774.0,1077.8 776.5,1082.5 779.3,1089.3 C782.1,1096.1 784.7,1106.2 788.3,1114.1 C791.9,1122.0 796.0,1129.7 800.7,1136.6 C805.4,1143.5 813.9,1152.2 816.5,1155.3" fill="none" stroke-width="3.0" stroke-linecap="butt"/><text transform="translate(812,1015.5) scale(1.0,1)" font-size="11" text-anchor="middle" fill="#231f20" stroke="none">1</text><text transform="translate(777.5,1052.5) scale(1.0,1)" font-size="11" text-anchor="middle" fill="#231f20" stroke="none">2</text><text transform="translate(749.5,1068) scale(1.0,1)" font-size="11" text-anchor="middle" fill="#231f20" stroke="none">3</text><text transform="translate(796.3,809.9) scale(0.94,1)" font-size="16" text-anchor="middle" fill="#231f20" stroke="none">HV-300</text><text transform="translate(681,852.0999999999999) scale(0.86,1)" font-size="16" text-anchor="end" fill="#231f20" stroke="none">80</text><text transform="translate(681,890.1999999999999) scale(0.86,1)" font-size="16" text-anchor="end" fill="#231f20" stroke="none">70</text><text transform="translate(681,929.1999999999999) scale(0.86,1)" font-size="16" text-anchor="end" fill="#231f20" stroke="none">60</text><text transform="translate(681,968.1999999999999) scale(0.86,1)" font-size="16" text-anchor="end" fill="#231f20" stroke="none">50</text><text transform="translate(681,1004.9) scale(0.86,1)" font-size="16" text-anchor="end" fill="#231f20" stroke="none">40</text><text transform="translate(681,1045.0) scale(0.86,1)" font-size="16" text-anchor="end" fill="#231f20" stroke="none">30</text><text transform="translate(681,1084.0) scale(0.86,1)" font-size="16" text-anchor="end" fill="#231f20" stroke="none">20</text><text transform="translate(681,1119.8) scale(0.86,1)" font-size="16" text-anchor="end" fill="#231f20" stroke="none">10</text><text transform="translate(681,1161.3999999999999) scale(0.86,1)" font-size="16" text-anchor="end" fill="#231f20" stroke="none">0</text><text transform="translate(663.8,818) scale(0.92,1)" font-size="17.5" fill="#231f20" stroke="none">p<tspan font-size="10.5" dy="1.5">sf</tspan></text><text transform="translate(672,835.5) scale(0.95,1)" font-size="14" text-anchor="middle" fill="#231f20" stroke="none">(Pa)</text><text transform="translate(689,1178.2) scale(1.0,1)" font-size="14" text-anchor="middle" fill="#231f20" stroke="none">0</text><text transform="translate(726.6,1178.2) scale(1.0,1)" font-size="14" text-anchor="middle" fill="#231f20" stroke="none">200</text><text transform="translate(763.4,1178.2) scale(1.0,1)" font-size="14" text-anchor="middle" fill="#231f20" stroke="none">400</text><text transform="translate(801,1178.2) scale(1.0,1)" font-size="14" text-anchor="middle" fill="#231f20" stroke="none">600</text><text transform="translate(838,1178.2) scale(1.0,1)" font-size="14" text-anchor="middle" fill="#231f20" stroke="none">800</text><text transform="translate(878,1178.2) scale(1.0,1)" font-size="14" text-anchor="middle" fill="#231f20" stroke="none">1000</text><text transform="translate(916.5,1178.2) scale(1.0,1)" font-size="14" text-anchor="middle" fill="#231f20" stroke="none">1200</text><text transform="translate(932.5,1178.2)" font-size="14" fill="#231f20" stroke="none">q<tspan font-size="9" dy="3">v</tspan></text><text transform="translate(948.5,1178.6) scale(1.12,1)" font-size="14.5" text-anchor="start" fill="#231f20" stroke="none">[m³/h]</text></svg>
<div class="t" style="left:670.6px;top:1188.66px;font-size:16px;line-height:16px;transform:scaleX(0.9744);transform-origin:0 0">1- Высокая скорость в режиме вытяжки.</div>
<div class="t" style="left:670.6px;top:1207.36px;font-size:16px;line-height:16px;transform:scaleX(0.9780);transform-origin:0 0">2- Низкая скорость в режиме вытяжки.</div>
<div class="t" style="left:670.6px;top:1226.06px;font-size:16px;line-height:16px;transform:scaleX(0.9701);transform-origin:0 0">3- в режиме притока.</div>
</body></html>
